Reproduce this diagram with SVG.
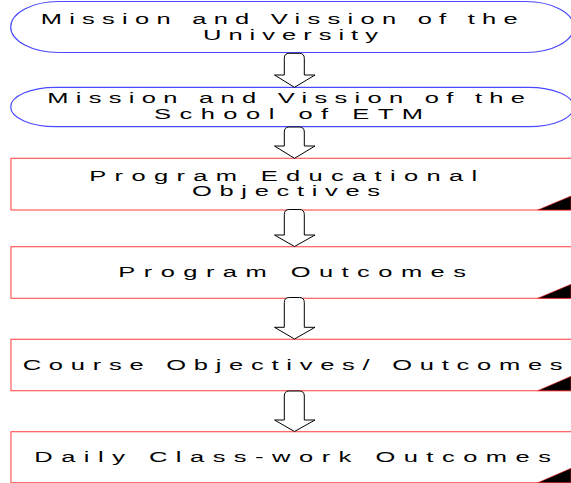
<svg xmlns="http://www.w3.org/2000/svg" width="571" height="483" viewBox="0 0 571 483">
<style>
.bg{fill:#ffffff}
.oval{fill:#ffffff;stroke:#4a4aff;stroke-width:1.2}
.box{fill:#ffffff;stroke:#ff5a5a;stroke-width:1.2}
.shade{fill:#000000;stroke:#ff2020;stroke-width:0.6}
.arrow{fill:#ffffff;stroke:#000000;stroke-width:1}
text{font-family:"Liberation Sans",Arial,sans-serif;font-size:15px;fill:#000000}
</style>
<rect class="bg" x="0" y="0" width="571" height="483"/>
<g id="node-university">
<rect class="oval" x="10.7" y="1.5" width="563" height="51" rx="48" ry="25.5"/>
<text transform="translate(40.7,24) scale(1.7,1)" textLength="280.6" lengthAdjust="spacing">Mission and Vission of the</text>
<text transform="translate(203,39.8) scale(1.7,1)" textLength="102.9" lengthAdjust="spacing">University</text>
</g>
<g id="node-school">
<rect class="oval" x="10.7" y="87.3" width="563" height="39.4" rx="45" ry="19.7"/>
<text transform="translate(47.3,103.3) scale(1.7,1)" textLength="281" lengthAdjust="spacing">Mission and Vission of the</text>
<text transform="translate(154,119) scale(1.7,1)" textLength="158.2" lengthAdjust="spacing">School of ETM</text>
</g>
<g id="node-peo">
<rect class="box" x="11" y="158.3" width="570" height="51.7"/>
<polygon class="shade" points="537.7,210 571,196 571,210"/>
<text transform="translate(89.3,180.7) scale(1.7,1)" textLength="228.1" lengthAdjust="spacing">Program Educational</text>
<text transform="translate(192,196.4) scale(1.7,1)" textLength="110.6" lengthAdjust="spacing">Objectives</text>
</g>
<g id="node-po">
<rect class="box" x="11" y="246.7" width="570" height="51.6"/>
<polygon class="shade" points="537.7,298.3 571,284.3 571,298.3"/>
<text transform="translate(118.3,277.3) scale(1.7,1)" textLength="204.5" lengthAdjust="spacing">Program Outcomes</text>
</g>
<g id="node-course">
<rect class="box" x="11" y="339.3" width="570" height="51.4"/>
<polygon class="shade" points="537.7,390.7 571,376.3 571,390.7"/>
<text transform="translate(22.7,370) scale(1.7,1)" textLength="317.6" lengthAdjust="spacing">Course Objectives/ Outcomes</text>
</g>
<g id="node-daily">
<rect class="box" x="11" y="431.7" width="570" height="51"/>
<polygon class="shade" points="537.7,482.7 571,468.3 571,482.7"/>
<text transform="translate(34.3,461.7) scale(1.7,1)" textLength="303.9" lengthAdjust="spacing">Daily Class-work Outcomes</text>
</g>
<g id="connectors">
<path class="arrow" d="M284.3,75 V58.3 Q284.3,53.3 289.3,53.3 H299.3 Q304.3,53.3 304.3,58.3 V75 H315 L294.5,87.3 L274.5,75 Z"/>
<path class="arrow" d="M284.3,146 V132 Q284.3,127 289.3,127 H299.3 Q304.3,127 304.3,132 V146 H315 L294.5,158.3 L274.5,146 Z"/>
<path class="arrow" d="M284.3,235 V214.5 Q284.3,209.5 289.3,209.5 H299.3 Q304.3,209.5 304.3,214.5 V235 H315 L294.5,246.5 L274.5,235 Z"/>
<path class="arrow" d="M284.3,327.3 V302.5 Q284.3,297.5 289.3,297.5 H299.3 Q304.3,297.5 304.3,302.5 V327.3 H315 L294.5,339 L274.5,327.3 Z"/>
<path class="arrow" d="M284.3,420 V396 Q284.3,391 289.3,391 H299.3 Q304.3,391 304.3,396 V420 H315 L294.5,431.5 L274.5,420 Z"/>
</g>
</svg>
